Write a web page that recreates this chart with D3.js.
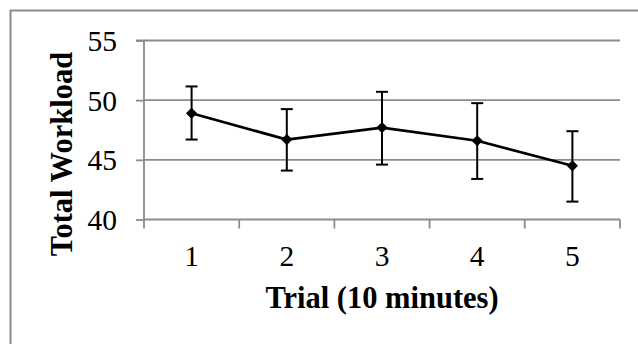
<!DOCTYPE html>
<html><head><meta charset="utf-8">
<script src="https://cdn.jsdelivr.net/npm/d3@7"></script>
<style>body{margin:0;background:#fff}svg{display:block}</style>
</head><body>
<script>
const trials = ["1","2","3","4","5"];
const workload = [48.9, 46.7, 47.7, 46.6, 44.5];
const errTop = [51.15, 49.25, 50.7, 49.75, 47.4];
const errBottom = [46.7, 44.1, 44.6, 43.4, 41.5];
const yTicks = [40, 45, 50, 55];
const xTitle = "Trial (10 minutes)";
const yTitle = "Total Workload";

const W = 638, H = 344;
const FONT = "'Liberation Serif', 'Times New Roman', serif";
const svg = d3.select("body").append("svg").attr("width", W).attr("height", H);
svg.append("rect").attr("width", W).attr("height", H).attr("fill", "#fff");
// outer chart border (cropped on right/bottom)
svg.append("path").attr("d", "M10.5,344V10.5H638").attr("fill","none").attr("stroke","#8c8c8c").attr("stroke-width",2);

const L = 144, R = 620, T = 40.5, B = 219.5;
const x = d3.scaleBand().domain(trials).range([L, R]);
const y = d3.scaleLinear().domain([40, 55]).range([B, T]);
const grid = "#8c8c8c";

// gridlines
svg.append("g").selectAll("line").data(yTicks.filter(d=>d>40)).join("line")
  .attr("x1", L).attr("x2", R).attr("y1", d=>y(d)).attr("y2", d=>y(d))
  .attr("stroke", grid).attr("stroke-width", 1.8);

// y axis
const yAxis = d3.axisLeft(y).tickValues(yTicks).tickSize(8).tickPadding(19);
const gy = svg.append("g").attr("transform", `translate(${L},0)`).call(yAxis);
gy.select(".domain").attr("stroke", grid).attr("stroke-width", 1.8).attr("d", `M-8,${T}H0V${B}`);
gy.selectAll(".tick line").attr("stroke", grid).attr("stroke-width", 1.8);
gy.selectAll(".tick text").attr("font-family", FONT)
  .attr("font-size", 29.5).attr("fill", "#000").attr("dy","0.34em");

// x axis
const bounds = trials.map(t => x(t)).concat([R]);
svg.append("line").attr("x1", L).attr("x2", R).attr("y1", B).attr("y2", B).attr("stroke", grid).attr("stroke-width", 1.8);
svg.append("g").selectAll("line").data(bounds).join("line")
  .attr("x1", d=>d).attr("x2", d=>d).attr("y1", B).attr("y2", B+9)
  .attr("stroke", grid).attr("stroke-width", 1.8);
svg.append("g").selectAll("text").data(trials).join("text")
  .attr("x", d => x(d) + x.bandwidth()/2).attr("y", 266)
  .attr("text-anchor","middle")
  .attr("font-family", FONT)
  .attr("font-size", 29.5).attr("fill","#000").text(d=>d);

const cx = d => x(d) + x.bandwidth()/2;

// error bars
const eb = svg.append("g").attr("stroke","#000").attr("stroke-width",2);
trials.forEach((t,i) => {
  eb.append("line").attr("x1",cx(t)).attr("x2",cx(t)).attr("y1",y(errTop[i])).attr("y2",y(errBottom[i]));
  eb.append("line").attr("x1",cx(t)-6).attr("x2",cx(t)+6).attr("y1",y(errTop[i])).attr("y2",y(errTop[i]));
  eb.append("line").attr("x1",cx(t)-6).attr("x2",cx(t)+6).attr("y1",y(errBottom[i])).attr("y2",y(errBottom[i]));
});

// line
const line = d3.line().x((d,i)=>cx(trials[i])).y(d=>y(d));
svg.append("path").datum(workload).attr("d", line).attr("fill","none").attr("stroke","#000").attr("stroke-width",2.7);

// markers
svg.append("g").selectAll("path").data(workload).join("path")
  .attr("transform",(d,i)=>`translate(${cx(trials[i])},${y(d)})`)
  .attr("d", d3.symbol().type(d3.symbolDiamond2).size(80))
  .attr("fill","#000");

// titles
svg.append("text").attr("x", 382).attr("y", 308).attr("text-anchor","middle")
  .attr("font-family", FONT).attr("font-weight","bold")
  .attr("font-size", 30.5).attr("fill","#000").text(xTitle);
svg.append("text").attr("transform", `translate(72,${154}) rotate(-90)`).attr("text-anchor","middle")
  .attr("font-family", FONT).attr("font-weight","bold")
  .attr("font-size", 30.5).attr("fill","#000").text(yTitle);
</script>
</body></html>
